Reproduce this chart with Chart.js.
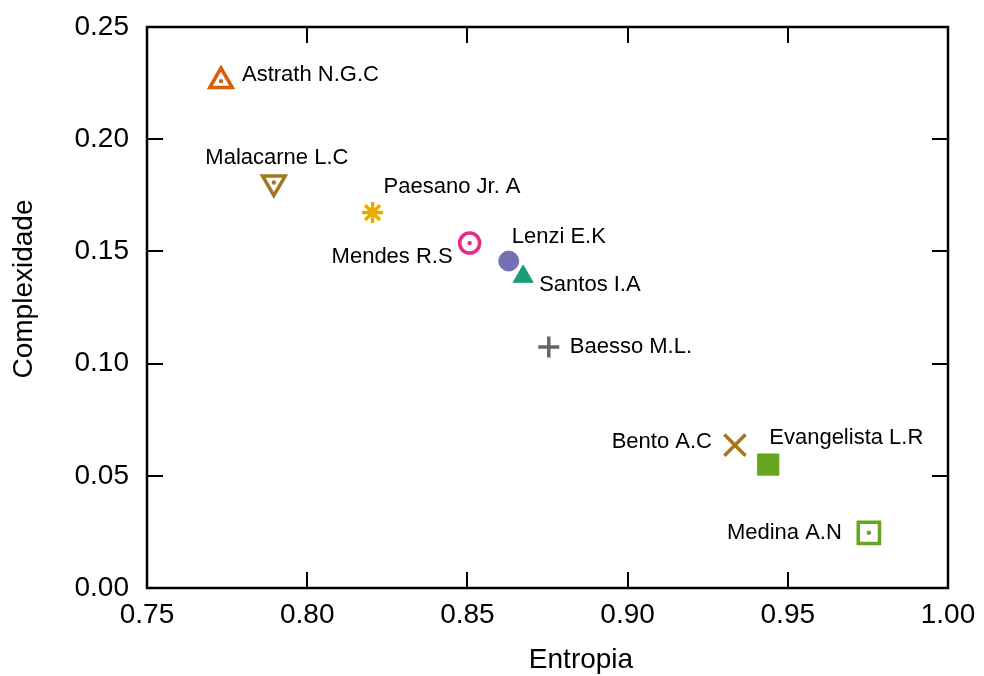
<!DOCTYPE html>
<html>
<head>
<meta charset="utf-8">
<script src="https://cdn.jsdelivr.net/npm/chart.js@4.4.0/dist/chart.umd.min.js"></script>
<style>
  html, body { margin: 0; padding: 0; background: #fff; }
  #wrap { width: 984px; height: 676px; }
</style>
</head>
<body>
<div id="wrap"><canvas id="scatterChart" width="984" height="676"></canvas></div>
<script>
// Data
const authors = ['Astrath N.G.C', 'Malacarne L.C', 'Paesano Jr. A', 'Mendes R.S', 'Lenzi E.K',
                 'Santos I.A', 'Baesso M.L.', 'Bento A.C', 'Evangelista L.R', 'Medina A.N'];
const entropia = [0.7731, 0.7896, 0.8204, 0.8507, 0.8629, 0.8674, 0.8754, 0.9335, 0.9439, 0.9753];
const complexidade = [0.2259, 0.1807, 0.1673, 0.1537, 0.1457, 0.1388, 0.1074, 0.0637, 0.0550, 0.0246];
const xTicks = [0.75, 0.80, 0.85, 0.90, 0.95, 1.00];
const yTicks = [0.00, 0.05, 0.10, 0.15, 0.20, 0.25];

// Estilo dos marcadores (gnuplot-like)
const markers = [
  { color: '#d95f02', style: 'triangle', rot: 0,   r: 13,   fill: false, dot: true },
  { color: '#a6761d', style: 'triangle', rot: 180, r: 13,   fill: false, dot: true },
  { color: '#e6ab02', style: 'star',     rot: 0,   r: 10.5, fill: false, dot: false },
  { color: '#e7298a', style: 'circle',   rot: 0,   r: 10,   fill: false, dot: true },
  { color: '#7570b3', style: 'circle',   rot: 0,   r: 10,   fill: true,  dot: false },
  { color: '#1b9e77', style: 'triangle', rot: 0,   r: 11.5, fill: true,  dot: false },
  { color: '#666666', style: 'cross',    rot: 0,   r: 10.5, fill: false, dot: false },
  { color: '#a6761d', style: 'crossRot', rot: 0,   r: 15,   fill: false, dot: false },
  { color: '#66a61e', style: 'rect',     rot: 0,   r: 15,   fill: true,  dot: false },
  { color: '#66a61e', style: 'rect',     rot: 0,   r: 15,   fill: false, dot: true }
];

// Posisi label relatif ke marcador
const labelPlace = [
  { dx: 21, dy: -6, align: 'left' },
  { dx: 3, dy: -25, align: 'center' },
  { dx: 11, dy: -26, align: 'left' },
  { dx: -17, dy: 14, align: 'right' },
  { dx: 3, dy: -24, align: 'left' },
  { dx: 16, dy: 8, align: 'left' },
  { dx: 21, dy: 0, align: 'left' },
  { dx: -23, dy: -3, align: 'right' },
  { dx: 1, dy: -27, align: 'left' },
  { dx: -27, dy: 0, align: 'right' }
];

const FONT = '"Liberation Sans", Arial, Helvetica, sans-serif';

const datasets = authors.map((name, i) => {
  const m = markers[i];
  return {
    label: name,
    data: [{ x: entropia[i], y: complexidade[i] }],
    pointStyle: m.style,
    rotation: m.rot,
    radius: m.r,
    borderColor: m.color,
    backgroundColor: m.fill ? m.color : 'rgba(0,0,0,0)',
    borderWidth: m.fill ? 1 : 3.5
  };
});

// Titik kecil di tengah marcador terbuka
const dotIdx = markers.map((m, i) => m.dot ? i : -1).filter(i => i >= 0);
datasets.push({
  label: 'dots',
  data: dotIdx.map(i => ({ x: entropia[i], y: complexidade[i] })),
  pointStyle: 'circle',
  radius: 2.2,
  borderWidth: 0,
  backgroundColor: dotIdx.map(i => markers[i].color)
});

const framePlugin = {
  id: 'frame',
  beforeDatasetsDraw(chart) {
    const { ctx, chartArea: a, scales } = chart;
    const tl = 16;
    ctx.save();
    ctx.strokeStyle = '#000';
    ctx.lineWidth = 2;
    ctx.beginPath();
    xTicks.forEach(v => {
      const px = Math.round(scales.x.getPixelForValue(v));
      ctx.moveTo(px, a.bottom); ctx.lineTo(px, a.bottom - tl);
      ctx.moveTo(px, a.top); ctx.lineTo(px, a.top + tl);
    });
    yTicks.forEach(v => {
      const py = Math.round(scales.y.getPixelForValue(v));
      ctx.moveTo(a.left, py); ctx.lineTo(a.left + tl, py);
      ctx.moveTo(a.right, py); ctx.lineTo(a.right - tl, py);
    });
    ctx.stroke();
    ctx.lineWidth = 2.5;
    ctx.strokeRect(a.left, a.top, a.right - a.left, a.bottom - a.top);
    ctx.restore();
  },
  afterDatasetsDraw(chart) {
    const { ctx } = chart;
    ctx.save();
    ctx.fillStyle = '#000';
    ctx.font = '22px ' + FONT;
    ctx.textBaseline = 'middle';
    authors.forEach((name, i) => {
      const el = chart.getDatasetMeta(i).data[0];
      const p = labelPlace[i];
      ctx.textAlign = p.align;
      ctx.fillText(name, el.x + p.dx, el.y + p.dy);
    });
    // Judul sumbu
    ctx.font = '28px ' + FONT;
    ctx.textAlign = 'center';
    ctx.fillText('Entropia', 581, 660);
    ctx.translate(24, 289);
    ctx.rotate(-Math.PI / 2);
    ctx.fillText('Complexidade', 0, 0);
    ctx.restore();
  }
};

new Chart(document.getElementById('scatterChart').getContext('2d'), {
  type: 'scatter',
  data: { datasets },
  options: {
    responsive: false,
    animation: false,
    devicePixelRatio: 1,
    layout: { padding: { top: 27, right: 36, left: 0, bottom: 0 } },
    plugins: { legend: { display: false }, tooltip: { enabled: false } },
    scales: {
      x: {
        type: 'linear',
        min: 0.75, max: 1.0,
        afterBuildTicks: s => { s.ticks = xTicks.map(v => ({ value: v })); },
        afterFit: s => { s.height = 88; s.paddingLeft = 0; s.paddingRight = 0; },
        grid: { display: false, drawTicks: false },
        border: { display: false },
        ticks: {
          padding: 10,
          color: '#000',
          font: { family: FONT, size: 28 },
          maxRotation: 0,
          callback: v => v.toFixed(2)
        }
      },
      y: {
        type: 'linear',
        min: 0, max: 0.25,
        afterBuildTicks: s => { s.ticks = yTicks.map(v => ({ value: v })); },
        afterFit: s => { s.width = 147; s.paddingTop = 0; s.paddingBottom = 0; },
        grid: { display: false, drawTicks: false },
        border: { display: false },
        ticks: {
          padding: 18,
          color: '#000',
          font: { family: FONT, size: 28 },
          callback: v => v.toFixed(2)
        }
      }
    }
  },
  plugins: [framePlugin]
});
</script>
</body>
</html>
